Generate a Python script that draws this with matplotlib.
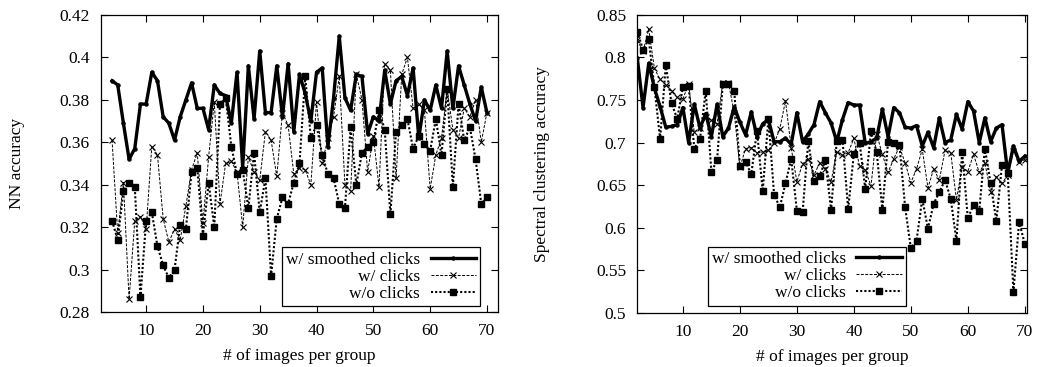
import numpy as np
import matplotlib
matplotlib.use('Agg')
import matplotlib.pyplot as plt

plt.rcParams['font.family'] = ['Liberation Serif', 'DejaVu Serif']
plt.rcParams['font.size'] = 12.5

# ---------- data: left panel (NN accuracy) ----------
x_left = list(range(4, 71))
nn_smoothed = [0.389, 0.387, 0.369, 0.352, 0.357, 0.378, 0.378, 0.393, 0.389, 0.372,
               0.369, 0.361, 0.372, 0.380, 0.388, 0.376, 0.376, 0.366, 0.387, 0.383,
               0.382, 0.369, 0.393, 0.348, 0.396, 0.371, 0.403, 0.374, 0.374, 0.396,
               0.372, 0.397, 0.365, 0.392, 0.383, 0.370, 0.393, 0.395, 0.358, 0.381,
               0.410, 0.381, 0.375, 0.392, 0.391, 0.364, 0.372, 0.370, 0.394, 0.378,
               0.389, 0.391, 0.382, 0.395, 0.362, 0.380, 0.375, 0.387, 0.376, 0.403,
               0.376, 0.396, 0.387, 0.378, 0.370, 0.386, 0.374]
nn_clicks = [0.361, 0.317, 0.341, 0.286, 0.323, 0.325, 0.319, 0.358, 0.354, 0.324,
             0.313, 0.319, 0.314, 0.330, 0.347, 0.355, 0.322, 0.353, 0.379, 0.331,
             0.350, 0.351, 0.346, 0.320, 0.353, 0.346, 0.342, 0.365, 0.361, 0.344,
             0.374, 0.368, 0.345, 0.348, 0.347, 0.340, 0.379, 0.350, 0.362, 0.372,
             0.391, 0.340, 0.337, 0.392, 0.380, 0.346, 0.363, 0.339, 0.397, 0.394,
             0.343, 0.392, 0.400, 0.376, 0.378, 0.375, 0.338, 0.354, 0.362, 0.385,
             0.366, 0.362, 0.376, 0.372, 0.380, 0.360, 0.374]
nn_noclicks = [0.323, 0.314, 0.337, 0.341, 0.339, 0.287, 0.323, 0.327, 0.311, 0.302,
               0.296, 0.300, 0.321, 0.319, 0.346, 0.348, 0.316, 0.341, 0.320, 0.378,
               0.381, 0.358, 0.345, 0.347, 0.329, 0.355, 0.327, 0.343, 0.297, 0.324,
               0.334, 0.331, 0.341, 0.350, 0.391, 0.362, 0.368, 0.354, 0.345, 0.343,
               0.331, 0.329, 0.367, 0.340, 0.355, 0.358, 0.360, 0.375, 0.366, 0.326,
               0.365, 0.368, 0.371, 0.357, 0.363, 0.359, 0.356, 0.371, 0.354, 0.385,
               0.339, 0.378, 0.361, 0.367, 0.352, 0.331, 0.334]

# ---------- data: right panel (spectral clustering accuracy) ----------
x_right = list(range(2, 71))
sc_smoothed = [0.799, 0.741, 0.793, 0.764, 0.742, 0.718, 0.719, 0.721, 0.741, 0.700,
               0.745, 0.717, 0.734, 0.707, 0.745, 0.707, 0.717, 0.742, 0.724, 0.709,
               0.736, 0.707, 0.722, 0.727, 0.701, 0.701, 0.705, 0.698, 0.735, 0.701,
               0.710, 0.721, 0.748, 0.735, 0.723, 0.701, 0.727, 0.747, 0.744, 0.744,
               0.699, 0.701, 0.705, 0.739, 0.707, 0.741, 0.735, 0.718, 0.717, 0.720,
               0.696, 0.712, 0.694, 0.729, 0.700, 0.703, 0.733, 0.716, 0.748, 0.737,
               0.700, 0.729, 0.701, 0.717, 0.721, 0.664, 0.696, 0.678, 0.684]
sc_clicks = [0.820, 0.807, 0.833, 0.787, 0.774, 0.768, 0.760, 0.753, 0.751, 0.769,
             0.712, 0.717, 0.730, 0.726, 0.722, 0.770, 0.770, 0.735, 0.671, 0.693,
             0.694, 0.688, 0.689, 0.691, 0.699, 0.716, 0.749, 0.694, 0.654, 0.675,
             0.681, 0.662, 0.676, 0.669, 0.654, 0.689, 0.685, 0.688, 0.705, 0.672,
             0.668, 0.649, 0.710, 0.686, 0.665, 0.681, 0.695, 0.676, 0.653, 0.669,
             0.692, 0.647, 0.669, 0.656, 0.691, 0.688, 0.633, 0.671, 0.666, 0.686,
             0.665, 0.676, 0.642, 0.660, 0.652, 0.662, 0.690, 0.677, 0.680]
sc_noclicks = [0.830, 0.809, 0.821, 0.765, 0.704, 0.791, 0.746, 0.728, 0.765, 0.766,
               0.693, 0.704, 0.761, 0.665, 0.680, 0.769, 0.769, 0.761, 0.673, 0.677,
               0.663, 0.714, 0.643, 0.728, 0.639, 0.624, 0.652, 0.681, 0.620, 0.618,
               0.702, 0.655, 0.661, 0.679, 0.621, 0.702, 0.703, 0.622, 0.687, 0.700,
               0.646, 0.713, 0.689, 0.621, 0.701, 0.700, 0.697, 0.624, 0.576, 0.585,
               0.634, 0.599, 0.628, 0.642, 0.656, 0.634, 0.585, 0.689, 0.611, 0.627,
               0.620, 0.693, 0.652, 0.608, 0.674, 0.664, 0.525, 0.607, 0.581]

labels = ['w/ smoothed clicks', 'w/ clicks', 'w/o clicks']
left_yticks = [0.28, 0.3, 0.32, 0.34, 0.36, 0.38, 0.4, 0.42]
right_yticks = [0.5, 0.55, 0.6, 0.65, 0.7, 0.75, 0.8, 0.85]
xticks = [10, 20, 30, 40, 50, 60, 70]


def draw(ax, x, smoothed, clicks, noclicks):
    ax.plot(x, smoothed, color='black', lw=2.4, marker='o', ms=2.2, label=labels[0])
    ax.plot(x, clicks, color='black', lw=0.7, ls=(0, (3, 1.5)), marker='x', ms=4,
            mew=0.8, label=labels[1])
    ax.plot(x, noclicks, color='black', lw=1.5, ls=(0, (1, 1)), marker='s', ms=3.8,
            label=labels[2])
    ax.tick_params(direction='in', length=5, width=0.8, top=True, right=True, pad=8)
    for s in ax.spines.values():
        s.set_linewidth(0.9)


fig = plt.figure(figsize=(10.39, 3.67), dpi=100)

# ---------- left ----------
ax1 = fig.add_axes([0.0969, 0.1499, 0.3827, 0.8093])
draw(ax1, x_left, nn_smoothed, nn_clicks, nn_noclicks)
ax1.set_xlim(2, 72)
ax1.set_ylim(0.28, 0.42)
ax1.set_xticks(xticks)
ax1.set_yticks(left_yticks)
ax1.set_yticklabels(['%g' % v for v in left_yticks])
ax1.set_xlabel('# of images per group')
ax1.set_ylabel('NN accuracy')
ax1.xaxis.set_label_coords(0.5, -0.12)
ax1.yaxis.set_label_coords(-0.19, 0.5)
leg1 = ax1.legend(loc='lower right', bbox_to_anchor=(0.954, 0.02), markerfirst=False,
                  fancybox=False, edgecolor='black', framealpha=1, borderaxespad=0,
                  borderpad=0.25, labelspacing=0.05, handlelength=2.6, handletextpad=0.6)
leg1.get_frame().set_linewidth(0.9)

# ---------- right ----------
ax2 = fig.add_axes([0.6134, 0.1471, 0.3746, 0.8128])
draw(ax2, x_right, sc_smoothed, sc_clicks, sc_noclicks)
ax2.set_xlim(2, 70.3)
ax2.set_ylim(0.5, 0.85)
ax2.set_xticks(xticks)
ax2.set_yticks(right_yticks)
ax2.set_yticklabels(['%g' % v for v in right_yticks])
ax2.set_xlabel('# of images per group')
ax2.set_ylabel('Spectral clustering accuracy')
ax2.xaxis.set_label_coords(0.5, -0.12)
ax2.yaxis.set_label_coords(-0.225, 0.5)
leg2 = ax2.legend(loc='lower right', bbox_to_anchor=(0.69, 0.0245), markerfirst=False,
                  fancybox=False, edgecolor='black', framealpha=1, borderaxespad=0,
                  borderpad=0.25, labelspacing=0.05, handlelength=2.6, handletextpad=0.6)
leg2.get_frame().set_linewidth(0.9)

plt.savefig('out.png', dpi=100)
